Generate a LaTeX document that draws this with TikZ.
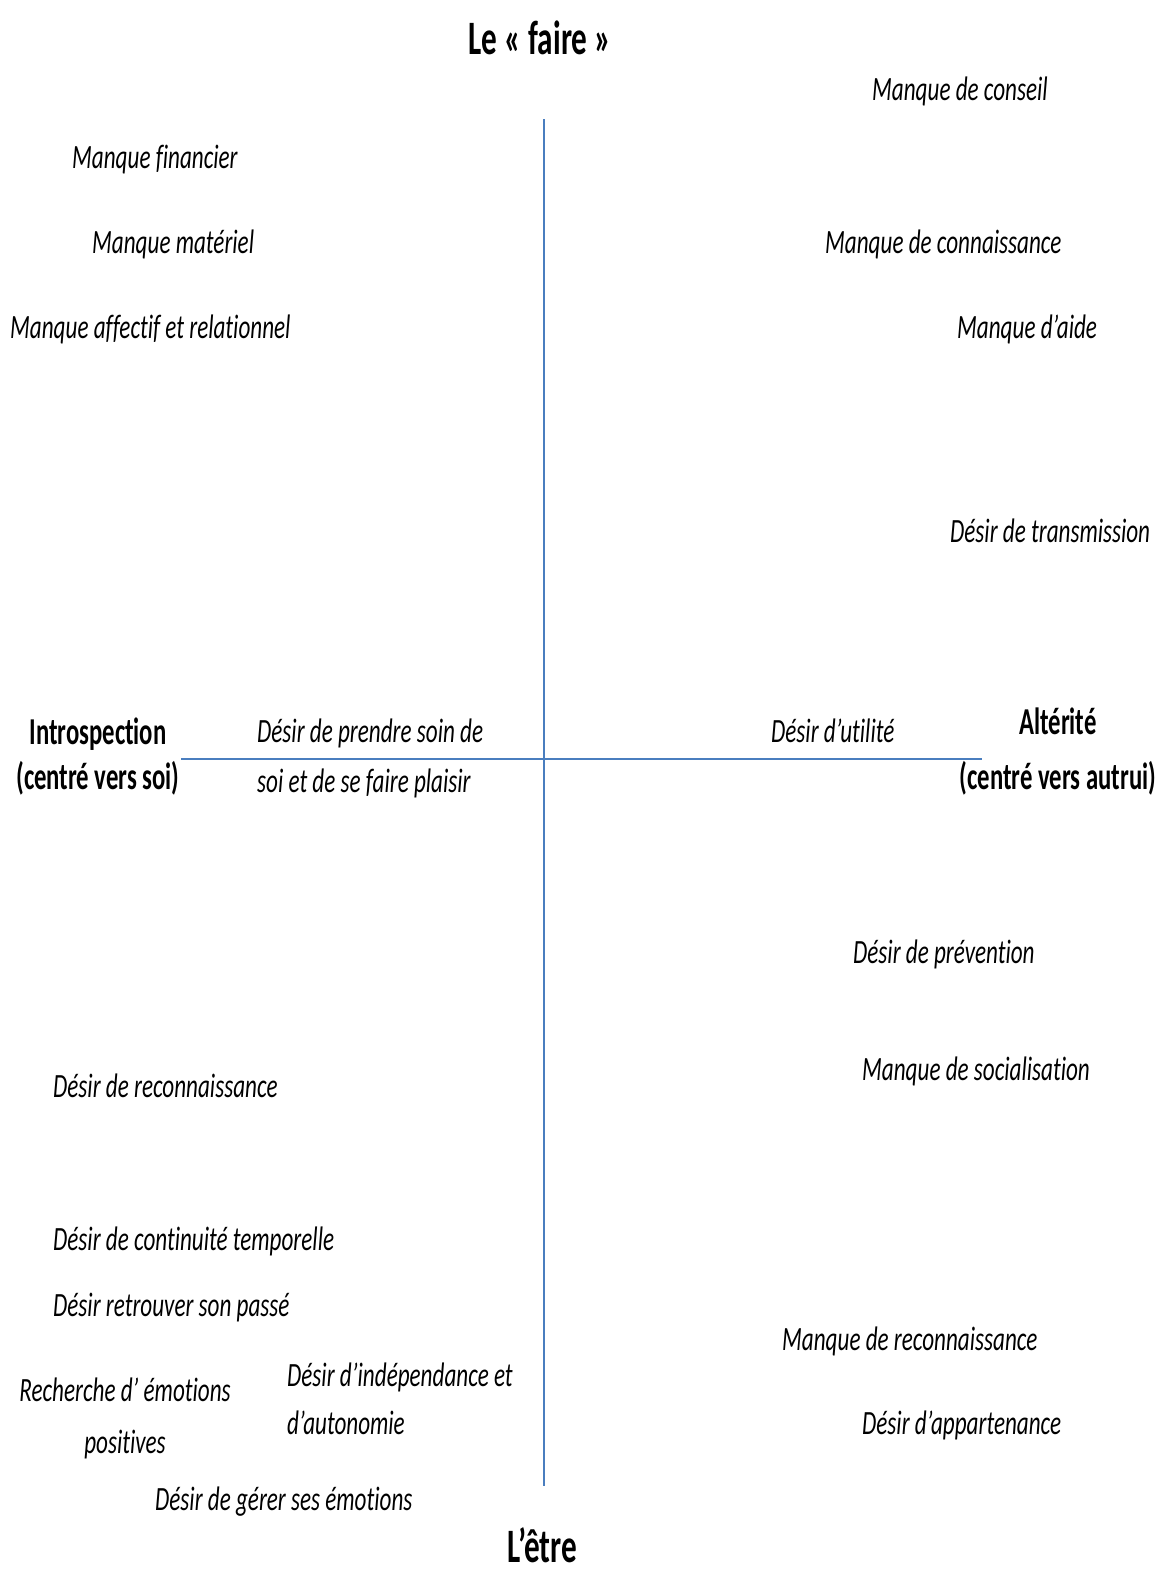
\documentclass[tikz,border=0pt]{standalone}
\usepackage{fontspec}
\newfontfamily\itfam[FakeStretch=0.68,Ligatures=NoCommon]{Carlito}
\newfontfamily\bffam[FakeStretch=0.65,Ligatures=NoCommon]{Carlito}
\definecolor{axisblue}{HTML}{4A7EBF}
\begin{document}
\begin{tikzpicture}[x=1pt,y=-1pt,
  lbl/.style={inner sep=0pt,anchor=base west,font=\itfam\itshape\fontsize{34}{50}\selectfont,align=left},
  lblc/.style={inner sep=0pt,anchor=base,font=\itfam\itshape\fontsize{34}{52}\selectfont,align=center},
  ttl/.style={inner sep=0pt,anchor=base,font=\bffam\bfseries\fontsize{38}{55}\selectfont,align=center},
  big/.style={inner sep=0pt,anchor=base,font=\bffam\bfseries\fontsize{48}{55}\selectfont},
  axis/.style={draw=axisblue,line width=2pt}]
\useasboundingbox (0,0) rectangle (1163,1571);
\coordinate (vt) at (544,119);
\coordinate (vb) at (544,1486);
\coordinate (hl) at (181,759);
\coordinate (hr) at (982,759);
\draw[axis] (vt) -- (vb);
\draw[axis] (hl) -- (hr);
\node[big] (faire) at (540,55) {Le « faire »};
\node[big] (etre) at (542,1562) {L’être};
\node[ttl,font=\bffam\bfseries\fontsize{38}{45}\selectfont] (intro) at (98,789) {Introspection\\(centré vers soi)};
\node[ttl] (alter) at (1058,789) {Altérité\\(centré vers autrui)};
\node[lbl] (conseil) at (872,100) {Manque de conseil};
\node[lbl] (fin) at (72,168) {Manque financier};
\node[lbl] (mat) at (92,253) {Manque matériel};
\node[lbl] (conn) at (825,253) {Manque de connaissance};
\node[lbl] (aff) at (10,338) {Manque affectif et relationnel};
\node[lbl] (aide) at (957,338) {Manque d’aide};
\node[lbl] (trans) at (950,542) {Désir de transmission};
\node[lbl] (soin) at (257,792) {Désir de prendre soin de\\soi et de se faire plaisir};
\node[lbl] (util) at (771,742) {Désir d’utilité};
\node[lbl] (prev) at (853,963) {Désir de prévention};
\node[lbl] (socia) at (862,1080) {Manque de socialisation};
\node[lbl] (reco) at (53,1097) {Désir de reconnaissance};
\node[lbl] (cont) at (53,1250) {Désir de continuité temporelle};
\node[lbl] (passe) at (53,1316) {Désir retrouver son passé};
\node[lbl] (mreco) at (782,1350) {Manque de reconnaissance};
\node[lblc] (emo) at (125,1453) {Recherche d’ émotions\\positives};
\node[lbl,font=\itfam\itshape\fontsize{34}{48}\selectfont] (indep) at (287,1434) {Désir d’indépendance et\\d’autonomie};
\node[lbl] (appart) at (862,1434) {Désir d’appartenance};
\node[lbl] (gerer) at (155,1510) {Désir de gérer ses émotions};
\end{tikzpicture}
\end{document}
